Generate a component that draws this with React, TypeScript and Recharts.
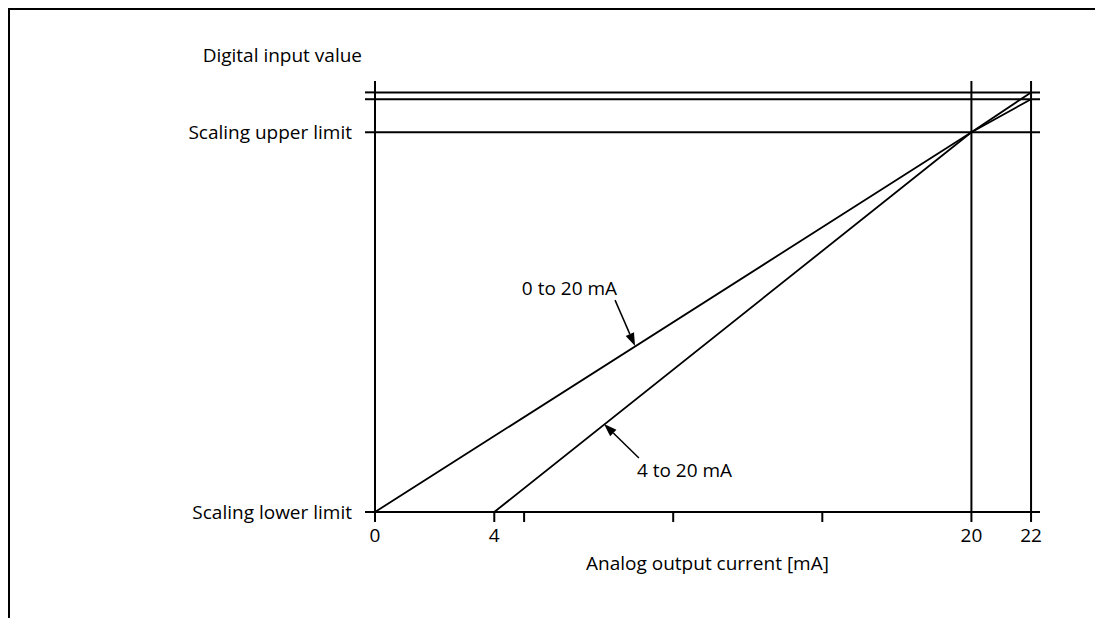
import React from 'react';
import { LineChart, Line, XAxis, YAxis, ReferenceLine } from 'recharts';

// analog output current (mA) at the drawn corner points
const currentMa = [0, 4, 20, 22];
// digital value in % of the scaling span (0 = lower limit, 100 = upper limit)
const range0to20 = [0, 20, 100, 108.7];
const range4to20 = [null, 0, 100, 110.5];

const xTicks = [0, 4, 5, 10, 15, 20, 22];
const xTickLabels = ['0', '4', '', '', '', '20', '22'];
const yTicks = [0, 100, 108.7, 110.5];
const yTickLabels = ['Scaling lower limit', 'Scaling upper limit', '', ''];

const limitLines = [100, 108.7, 110.5];
const currentLines = [20, 22];

// callouts: [x, y] of tail and head in data units
const callout0to20 = { text: '0 to 20 mA', from: [8.05, 55.8], to: [8.72, 43.7] };
const callout4to20 = { text: '4 to 20 mA', from: [8.85, 14.2], to: [7.68, 23.2] };

const data = currentMa.map((c, i) => ({ current: c, r0: range0to20[i], r4: range4to20[i] }));

const FONT = 19;
const black = '#000';

function arrowShape(caption: string, side: 'left' | 'right') {
  return (props: any) => {
    const { x1, y1, x2, y2 } = props;
    const ang = Math.atan2(y2 - y1, x2 - x1);
    const len = 13;
    const half = 4.5;
    const bx = x2 - len * Math.cos(ang);
    const by = y2 - len * Math.sin(ang);
    const px = -Math.sin(ang) * half;
    const py = Math.cos(ang) * half;
    return (
      <g>
        <line x1={x1} y1={y1} x2={bx} y2={by} stroke={black} strokeWidth={1.5} />
        <polygon points={`${x2},${y2} ${bx + px},${by + py} ${bx - px},${by - py}`} fill={black} />
        <text
          x={side === 'left' ? x1 + 2 : x1 - 2}
          y={side === 'left' ? y1 - 12 : y1 + 12}
          textAnchor={side === 'left' ? 'end' : 'start'}
          dominantBaseline="central"
          fontSize={FONT}
          fill={black}
        >
          {caption}
        </text>
      </g>
    );
  };
}

export default function App() {
  return (
    <div style={{ fontFamily: '"Open Sans", sans-serif' }}>
      {/* page frame: top and left rules */}
      <div style={{ position: 'absolute', left: 8, top: 8, width: 1087, height: 2, background: black }} />
      <div style={{ position: 'absolute', left: 8, top: 8, width: 2, height: 610, background: black }} />
      <div style={{ position: 'absolute', left: 10, top: 10, width: 1085, height: 608 }}>
        <LineChart width={1085} height={608} data={data} margin={{ top: 71, right: 55, left: 0, bottom: 46 }}>
          <XAxis
            type="number"
            dataKey="current"
            domain={[0, 22.3]}
            ticks={xTicks}
            interval={0}
            tickFormatter={(v: number) => xTickLabels[xTicks.indexOf(v)] ?? ''}
            tickSize={10}
            tickMargin={7}
            height={60}
            axisLine={{ stroke: black, strokeWidth: 2 }}
            tickLine={{ stroke: black, strokeWidth: 2 }}
            tick={{ fill: black, fontSize: FONT }}
            label={{ value: 'Analog output current [mA]', position: 'insideBottom', offset: 2, fill: black, fontSize: FONT }}
          />
          <YAxis
            type="number"
            domain={[0, 113.5]}
            ticks={yTicks}
            interval={0}
            tickFormatter={(v: number) => yTickLabels[yTicks.indexOf(v)] ?? ''}
            width={365}
            tickSize={10}
            tickMargin={13}
            axisLine={{ stroke: black, strokeWidth: 2 }}
            tickLine={{ stroke: black, strokeWidth: 2 }}
            tick={{ fill: black, fontSize: FONT }}
            label={{
              content: (p: any) => (
                <text
                  x={p.viewBox.x + p.viewBox.width - 13}
                  y={p.viewBox.y - 26}
                  textAnchor="end"
                  dominantBaseline="central"
                  fontSize={FONT}
                  fill={black}
                >
                  Digital input value
                </text>
              ),
            }}
          />
          {limitLines.map((v) => (
            <ReferenceLine key={`y${v}`} y={v} stroke={black} strokeWidth={2} />
          ))}
          {currentLines.map((v) => (
            <ReferenceLine key={`x${v}`} x={v} stroke={black} strokeWidth={2} />
          ))}
          <Line type="linear" dataKey="r0" stroke={black} strokeWidth={1.8} dot={false} connectNulls isAnimationActive={false} />
          <Line type="linear" dataKey="r4" stroke={black} strokeWidth={1.8} dot={false} connectNulls isAnimationActive={false} />
          <ReferenceLine
            segment={[
              { x: callout0to20.from[0], y: callout0to20.from[1] },
              { x: callout0to20.to[0], y: callout0to20.to[1] },
            ]}
            shape={arrowShape(callout0to20.text, 'left')}
          />
          <ReferenceLine
            segment={[
              { x: callout4to20.from[0], y: callout4to20.from[1] },
              { x: callout4to20.to[0], y: callout4to20.to[1] },
            ]}
            shape={arrowShape(callout4to20.text, 'right')}
          />
        </LineChart>
      </div>
    </div>
  );
}
